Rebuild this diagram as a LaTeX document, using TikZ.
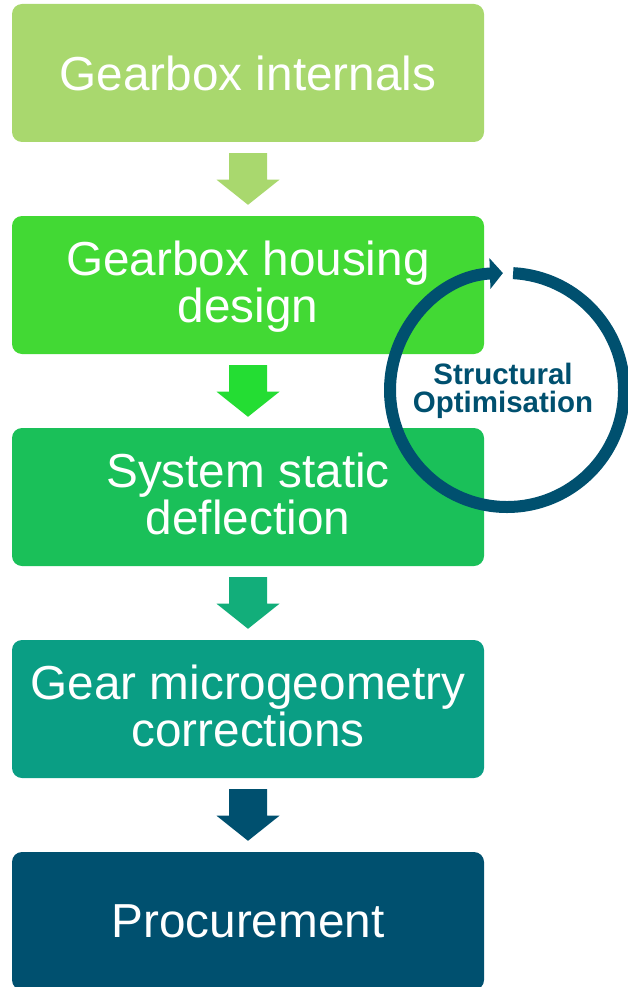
\documentclass[tikz,border=0pt]{standalone}
\usepackage{fontspec}
\setmainfont{Liberation Sans}
\usetikzlibrary{arrows.meta,calc}
\definecolor{cA}{HTML}{A9D86E}
\definecolor{cB}{HTML}{42D934}
\definecolor{cBarrow}{HTML}{24DD33}
\definecolor{cC}{HTML}{1AC059}
\definecolor{cCarrow}{HTML}{12AE7A}
\definecolor{cD}{HTML}{0A9E84}
\definecolor{cE}{HTML}{00506F}
\tikzset{
  box/.style={fill=#1, rounded corners=10pt, minimum width=472pt, minimum height=138pt,
    inner sep=0pt, text=white, align=center, font=\fontsize{47.7}{47}\selectfont},
  looptext/.style={text=cE, align=center, inner sep=0pt, font=\fontsize{29.5}{28}\selectfont\bfseries},
  loopline/.style={draw=cE, line width=12pt, -{Triangle[length=13pt,width=30pt]}}
}
\newcommand\ls{\rule[-10pt]{0pt}{47pt}}
\newcommand\lsmall{\rule[-5pt]{0pt}{28pt}}
\newcommand\blockarrow[3]{%
  \fill[#3] ($(#1.south)+(-19,-11)$) -- ($(#1.south)+(19,-11)$) -- ($(#1.south)+(19,-37.5)$)
    -- ($(#1.south)+(31.5,-37.5)$) -- ($(#2.north)+(0,11)$) -- ($(#1.south)+(-31.5,-37.5)$)
    -- ($(#1.south)+(-19,-37.5)$) -- cycle;}
\begin{document}
\begin{tikzpicture}[x=1pt,y=1pt]
\useasboundingbox (0,0) rectangle (628,-987);
\node[box=cA] (b1) at (248,-73) {Gearbox internals};
\node[box=cB] (b2) at (248,-285) {\ls Gearbox housing\\\ls design};
\node[box=cC] (b3) at (248,-497) {\ls System static\\\ls deflection};
\node[box=cD] (b4) at (248,-709) {\ls Gear microgeometry\\\ls corrections};
\node[box=cE] (b5) at (248,-921) {Procurement};
\blockarrow{b1}{b2}{cA}
\blockarrow{b2}{b3}{cBarrow}
\blockarrow{b3}{b4}{cCarrow}
\blockarrow{b4}{b5}{cE}
\coordinate (cc) at (507,-390);
\draw[loopline] ($(cc)+(87:117)$) arc[start angle=87, end angle=-268, radius=117];
\node[looptext] (opt) at (503,-390) {\lsmall Structural\\\lsmall Optimisation};
\end{tikzpicture}
\end{document}
